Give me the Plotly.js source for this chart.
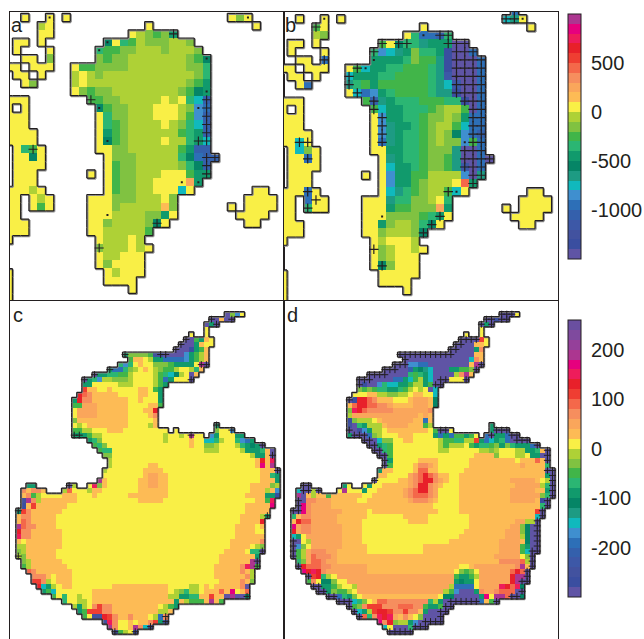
<!DOCTYPE html>
<html><head><meta charset="utf-8">
<script src="https://cdn.plot.ly/plotly-3.0.1.min.js"></script>
<style>html,body{margin:0;padding:0;background:#fff}</style></head>
<body><div id="chart" style="width:644px;height:639px"></div>
<script>
// Colour classes, lowest to highest.
var levelKeys = ['P','z','q','n','f','e','d','c','l','j','i','h','g','b','a','y','o','p','s','t','r','R','k','m','u','v','w','x'];
var levelColors = ['#5f54a5','#3a4ea0','#42529f','#3d58a7','#3460ac','#2d6fb7','#3f8fcf','#10b9bd','#1d9b83','#058566','#119a6c','#2bb673','#41b549','#80c241','#aed136','#f9ef46','#fdbb55','#faa65b','#f68e5e','#f4684a','#ef3e32','#e8202a','#ee1c5b','#e6007e','#ac3690','#95409a','#7f4a9e','#6a4fa0'];
// Rows: "startColumn:classes" with optional repeat counts.
var rowsA = ["2:y 5:y 7:y 27:yby","4:ay 17:y 30:y","4:y2 15:yabgbi","1:y2 4:y 12:jyhgab3a2b","1:y 5:y 11:hg2b2a3ba3b","2:y2 5:b 11:bgb2a7bgj","0:y2 3:y3 8:yg2b4a7b2h","1:y2 4:y 8:ayaba11bh","2:yb 8:aya12bgi","8:ybgb2a8bgji","0:y3 10:g2b2a5yayhcf","0:y 2:y 11:jgb2a3y3abde","0:y3 11:yhb2a3y3agdf","0:y3 11:yhgba4yabhcf","0:y4 11:yigba6ghif","0:y4 11:yjgba4ya2hic","1:yhgy 11:y2b2a6gif2","1:y2jy 12:yb3a5hjef2","1:y4 12:ygb2a5bhjf","1:y3 10:y 12:ygb2a3y3gi2","1:y3 12:ygb2a2y4pi","0:y3ay 12:ygb2a2y3cy 30:y2","0:y2 3:yay 10:y3b3a3yb 29:y4","0:y2 3:ygy 10:y3ba5ob 27:y 29:y4","0:y2 10:y3a4b2iy 28:y4","0:y3 10:y2ba4bjy 29:y2","0:y3 10:y2a5g","0:y 11:ya3ya","11:ba3yay","11:ya2y3","11:yby4","0:y 12:yay3","0:y 12:y4","0:y 15:y","0:y"];
var rowsB = ["28:e","2:y 5:y 7:y 27:cly","4:gy 17:y 30:y","4:ab 15:yheefh","1:y2 4:y 12:gyjh2li3P2","1:y 5:y 11:hdclibh2izP2e","2:y2 5:e 11:i4hbg2lzP3e","0:y2 3:y3 8:ygci2h2g3hlzP3e","1:y2 4:y 8:ci3h2g4hlnP3e","2:ye 8:lhgig6hlcnP2e","8:ycedihg4hl2zP2e","0:y3 10:gflih3g3h2zPe","0:y 2:y 11:gci2h3gba2gPe","0:y3 11:ydi2h2gb2abie2","0:y3 11:ydli2hgba2gce2","0:y4 11:ydlih2gbabjdef","0:y2cy 11:yelih2gbab2dge","1:ycby 11:y2i2h2gb3lP2e","1:y2ey 12:ylih2gb2glP2eP","1:y4 12:yci2hgb2glnPe","1:y3 10:y 12:ydi2g2a4dPl","1:y3 12:ydi2gba3yti","0:y3ey 12:yclhgba2gcy 30:y2","0:y2 3:ey2 10:y3lh2b2ayh 29:y4","0:y2 3:hy2 10:y3ig2b3pi 27:y 29:y4","0:y2 10:y3b4ghiy 28:y4","0:y3 10:y2iba2bhjy 29:y2","0:y3 10:y2ba3bj","0:y 11:yay3a","11:ybay2ay","11:ybay3","11:yjby3","0:y 12:y5","0:y 12:y4","0:y 15:y","0:y"];
var rowsC = ["42:Pbdy","39:P2oP2","38:PiP","38:y","35:y 38:y","34:P2gioy","33:P3ioy2","32:P3zigo","22:ib4gq2P4digao","23:go2yai2e4digao","21:hdhyoy2b3gi4yuP","19:ie2hbayoyabg2ay2aho","16:Pi2h2g2ay4aghcjayPo","14:Pihda2b3ay4ageiy3P","14:i2y5a3y4agi","14:ro2y2oy5o2ygi","13:Rtso5y4o2y2i","12:iRs2o7y2oy3i","12:g2p3o6y4o2g","12:yp4o6y3o2R","12:yp4o6y4os","12:bo10y5o","12:yayo8y4ao 40:i","12:g2a2y3o3y9 32:y 40:by2d","12:i3ga2y12ay2ayuy2 39:diy3i2","15:ihby12ay4oy2c2hay2hdei","16:ghby16oy2b2ay3ahijiP","17:gh2y18a3y4ai3hoP","18:b2y27ai2oP","19:ay28oRok","19:ay7o2y19omou","18:ay7o4y19o3P","18:y8op2o2y18o2hi","17:uoy6o2p2o2y18o3i","3:i2 11:Pa 15:ykboy6o2p2o2y16o4ba","2:sos2o 10:aty3ao2y7o6y16o3aod","2:osgay4o3y3oy6o8y15o4i2z","2:qusao7y12o5y18o2gk","2:zoro6y35o5m","1:jrso6y36o5","1:os2o5y36o4ai","1:otso5y36o4R","1:uts2o4y35o4yo","1:Rs2o6y34o4y2","1:ks2o6y34o6","1:oyo7y33o6s","1:a2o7y33o4yab","1:bao6y33o4yh2P","1:abo6y32o7i","2:bao6y31o6uP","2:gao7y29o5skug","3:tso7y28o5soa","4:s3oyo3y28o6sa","4:r2sayo3y29o4sob","5:Rciayo2y8o11y4a2yoyo5sP","6:igcy7o15yabha2yo3tomyot","8:gyhy2ay2o15a2i2h2o2ro2PuP2j","10:hy2a2yo16ioag3ouog","12:aiaysrs2o9yagi","13:igr3s2o9a2o","14:gyq2Rrso2so3yaes","18:qksy2oyo2sriq","19:usy2ouscq","20:qgayq"];
var rowsD = ["42:P3y","39:P2zP2","38:PiP","38:y","35:y 38:y","34:P4ry","33:P4o2y","32:P5is","22:P15o2","23:P13cso","21:P3d2e2P8ouP","19:P5fijlcP3i2g2bP","16:P8hghicP4asuo","14:P7e2icgaicP3y3P","14:PzP2dhc2i2ga2igP2","14:bgbgh2i2hgayayPc","13:y3o2a2b2a2yo2y2c","12:PzR2tso3y3op3oj","12:otR2t2s2po4p3oj","12:bkRts5p7s","12:ap13opo","12:zba3yop6o2eo","12:qPhia3op4o3ga 40:i","12:P2qdia2yo8ygP2 32:y 40:iP3","12:iP3ebay3o3y4ieieg2igy 39:ePi2eP2","15:P3cb2y2o2y5ag2h2a2rieciheP4","16:P2ihgy9aga3ygih2gbibhi3eP","17:P2hgy9a2y6a2bay3a2i2hoP","18:P2gy16o4by3a2yi2P2","19:Piy5o4y6o9yo3toP","19:Pgy4os2poy6o10po4h","18:io2y4ot2o2y5o16P2","18:o2y4pstRtso2y2o17iP","17:Py4o2pstR2spoy2o10p5oyaP","3:P2 11:iy 15:yiy2o5psR2spoy3o11p5ahP","2:cP2aP 10:yuy3iy2o5pstR2spy4o10p5o2iP","2:uPoao2go6y2o6pst3spy4o10p6bhP","2:P2s2p3o5y2o8ps3poy4o10p5ozP","2:Pmsp4o20y5o16hP","1:P2msp6o5yo13y4o15rP","1:hos2p5o6y7o5y8o13cP","1:oRt2p5o5y9o4y8o9p2a2P","1:mps2p6o4y21o8p2bjP2","1:Rps2p6o4y20o8p3bjP2","1:ciyp7o4y19o9p3ajP2","1:P2yap6o4y17o10p4ojP2","1:Pdbyp6o5y11o15p4giP2","1:Pgaps3p2o6y11o15p4gcP2","1:Pgapts3po31p5ybP","2:hbpt2sp2o32s4taP","2:PRt3s2p7o18y2op8suoP","3:mRkRsp8o17ybgbyp6tRtP","4:PrRhayp23gi2gap6Ru2P","4:gsyj2by2p21iji2yp6RuP2","5:P2i2gay2ap18ae4yp4kRtkj","6:P2ibg2ayp17agdP3isp2st3P2","8:P2ehibyo15yj2P5imyu2tP2j","10:P3chbyot2s8haiP7eogP","12:Pgbsr3s3t3s2gi2gP2","13:PciarR2rs2rs2oiP4","14:PthskRkposoybP4","18:msRba2idP5","19:cyP3hP3","20:P5"];
// Significance crosses and small dots as [column, row].
var crossA = [[20,2],[10,10],[24,10],[24,11],[24,12],[24,13],[24,14],[24,15],[23,15],[3,16],[24,17],[25,17],[24,18],[24,19],[18,25],[11,28]];
var dotsA = [[5,0],[29,0],[12,3],[11,4],[24,5],[24,9],[11,11],[23,11],[12,15],[21,20],[23,20],[12,24]];
var crossBExtra = [[27,0],[28,0],[4,1],[19,2],[20,2],[12,3],[14,3],[15,3],[20,3],[11,4],[5,5],[9,6],[8,7],[8,8],[9,9],[11,10],[11,11],[12,12],[12,13],[12,14],[12,15],[23,15],[2,15],[3,15],[3,17],[3,21],[4,22],[3,23],[19,24],[18,25],[17,26],[23,20],[24,19],[11,28],[12,30],[20,21]];
var dotsB = [[5,0],[29,0],[17,2],[11,5],[10,6],[21,7],[22,15],[21,21],[12,24]];
var crossC = [[22,8],[29,8],[30,8],[19,11],[16,12],[14,13],[12,24],[13,24],[35,24],[43,23],[40,22],[33,6],[34,5],[32,7],[39,1],[40,2],[43,1],[37,10],[38,10],[35,13],[49,26],[51,28],[52,31],[11,34],[1,39],[1,48],[50,40],[49,47],[48,49],[48,50],[46,56],[30,60],[30,61],[27,62],[20,63],[24,63]];
// Colour-bar ticks.
var barATicks = [500,0,-500,-1000];
var barBTicks = [200,100,0,-100,-200];
var panelLabels = ['a','b','c','d'];

var W=644,H=639,INK='#231f20',NCOLS=56;
function decode(rows,first,min,step){
  var z=[],y=[];
  rows.forEach(function(row,j){
    var line=new Array(NCOLS).fill(null);
    row.split(' ').forEach(function(seg){
      var parts=seg.split(':'),col=+parts[0],m,re=/([A-Za-z])(\d*)/g;
      while((m=re.exec(parts[1]))){
        var n=m[2]?+m[2]:1,k=levelKeys.indexOf(m[1]);
        for(var i=0;i<n;i++) line[col++]=min+step*(k+0.5);
      }
    });
    z.push(line);y.push(first+j);
  });
  return {z:z,y:y,first:first};
}
function has(g,c,r){var l=g.z[r-g.first];return !!l&&c>=0&&c<NCOLS&&l[c]!==null;}
function outline(g,d){
  var xs=[],ys=[];
  function seg(a,b,c,e){xs.push(a+d,c+d,null);ys.push(b+d,e+d,null);}
  g.z.forEach(function(l,j){var r=g.first+j;l.forEach(function(v,c){
    if(v===null)return;
    if(!has(g,c,r-1))seg(c-.5,r-.5,c+.5,r-.5);
    if(!has(g,c,r+1))seg(c-.5,r+.5,c+.5,r+.5);
    if(!has(g,c-1,r))seg(c-.5,r-.5,c-.5,r+.5);
    if(!has(g,c+1,r))seg(c+.5,r-.5,c+.5,r+.5);
  });});
  return {x:xs,y:ys};
}
function stepScale(n){
  var s=[];for(var i=0;i<n;i++){s.push([i/n,levelColors[i]],[(i+1)/n,levelColors[i]]);}
  return s;
}
var gA=decode(rowsA,0,-1500,100),gB=decode(rowsB,-1,-1500,100),gC=decode(rowsC,0,-300,20),gD=decode(rowsD,0,-300,20);
// crosses derived from the field
var crossB=crossBExtra.slice();
gB.z.forEach(function(l,j){l.forEach(function(v,c){if(v!==null&&v<-900&&c>=21)crossB.push([c,gB.first+j]);});});
var crossD=[];
gD.z.forEach(function(l,j){l.forEach(function(v,c){
  if(v===null||v>-280)return;
  var edge=false;
  for(var a=-1;a<=1;a++)for(var b=-1;b<=1;b++)if(!has(gD,c+a,j+b))edge=true;
  if(edge)crossD.push([c,j]);
});});
var panels=[
 {g:gA,ca:'coloraxis',xa:'x',ya:'y',px:[9.5,283.5],py:[11.5,300],xr:[0.15,33.3],yr:[34.31,-0.72],cross:crossA,dots:dotsA,size:6.5,w:1.1},
 {g:gB,ca:'coloraxis',xa:'x2',ya:'y2',px:[283.5,558],py:[11.5,300],xr:[0.07,33.28],yr:[34.15,-0.885],cross:crossB,dots:dotsB,size:6.8,w:1.2},
 {g:gC,ca:'coloraxis2',xa:'x3',ya:'y3',px:[9.5,283.5],py:[301,639],xr:[-0.73,53.17],yr:[64.45,-2.62],cross:crossC,dots:[],size:5,w:1},
 {g:gD,ca:'coloraxis2',xa:'x4',ya:'y4',px:[283.5,558],py:[301,639],xr:[-0.93,53.08],yr:[64.45,-2.62],cross:crossD,dots:[],size:5,w:1}
];
var data=[],layout={width:W,height:H,margin:{l:0,r:0,t:0,b:0,autoexpand:false},paper_bgcolor:'#fff',plot_bgcolor:'#fff',showlegend:false,annotations:[],
 font:{family:'Liberation Sans, Arial, sans-serif',color:INK},
 coloraxis:{cmin:-1500,cmax:1000,colorscale:stepScale(25),colorbar:bar(14,245,barATicks)},
 coloraxis2:{cmin:-300,cmax:260,colorscale:stepScale(28),colorbar:bar(320,277,barBTicks)}};
function bar(top,len,ticks){return {thickness:13,thicknessmode:'pixels',len:len,lenmode:'pixels',x:568/W,xanchor:'left',y:1-top/H,yanchor:'top',xpad:0,ypad:0,outlinecolor:INK,outlinewidth:1,borderwidth:0,tickvals:ticks,ticktext:ticks.map(String),ticks:'outside',ticklen:6,tickcolor:'rgba(0,0,0,0)',tickfont:{family:'Liberation Sans, Arial, sans-serif',size:20,color:INK}};}
panels.forEach(function(p,i){
  var n=p.g.z[0].length,xs=[];for(var c=0;c<n;c++)xs.push(c);
  data.push({type:'heatmap',z:p.g.z,x:xs,y:p.g.y,coloraxis:p.ca,xaxis:p.xa,yaxis:p.ya,hoverinfo:'skip',zsmooth:false});
  var sh=outline(p.g,0.1),ol=outline(p.g,0);
  data.push({type:'scatter',mode:'lines',x:sh.x,y:sh.y,xaxis:p.xa,yaxis:p.ya,line:{color:'#8c8c8c',width:1.6},connectgaps:false,hoverinfo:'skip'});
  data.push({type:'scatter',mode:'lines',x:ol.x,y:ol.y,xaxis:p.xa,yaxis:p.ya,line:{color:INK,width:1.2},connectgaps:false,hoverinfo:'skip'});
  data.push({type:'scatter',mode:'markers',x:p.cross.map(function(q){return q[0];}),y:p.cross.map(function(q){return q[1];}),xaxis:p.xa,yaxis:p.ya,marker:{symbol:'cross-thin',size:p.size,line:{color:INK,width:p.w}},hoverinfo:'skip'});
  if(p.dots.length)data.push({type:'scatter',mode:'markers',x:p.dots.map(function(q){return q[0];}),y:p.dots.map(function(q){return q[1];}),xaxis:p.xa,yaxis:p.ya,marker:{symbol:'square',size:2,color:INK},hoverinfo:'skip'});
  var sfx=i?String(i+1):'',bottomOpen=i>1;
  var common={showgrid:false,zeroline:false,showticklabels:false,ticks:'',fixedrange:true,showline:true,linecolor:INK,linewidth:1};
  layout['xaxis'+sfx]=Object.assign({},common,{domain:[p.px[0]/W,p.px[1]/W],range:p.xr,anchor:'y'+sfx,mirror:!bottomOpen,side:bottomOpen?'top':'bottom'});
  layout['yaxis'+sfx]=Object.assign({},common,{domain:[1-p.py[1]/H,1-p.py[0]/H],range:p.yr,anchor:'x'+sfx,mirror:true});
  layout.annotations.push({xref:'paper',yref:'paper',x:(p.px[0]+2)/W,y:1-(p.py[0]+1)/H,xanchor:'left',yanchor:'top',text:panelLabels[i],showarrow:false,font:{family:'Liberation Sans, Arial, sans-serif',size:20,color:INK},xshift:i<2?-3:-1});
});
Plotly.newPlot('chart',data,layout,{displayModeBar:false,staticPlot:true});
</script></body></html>
